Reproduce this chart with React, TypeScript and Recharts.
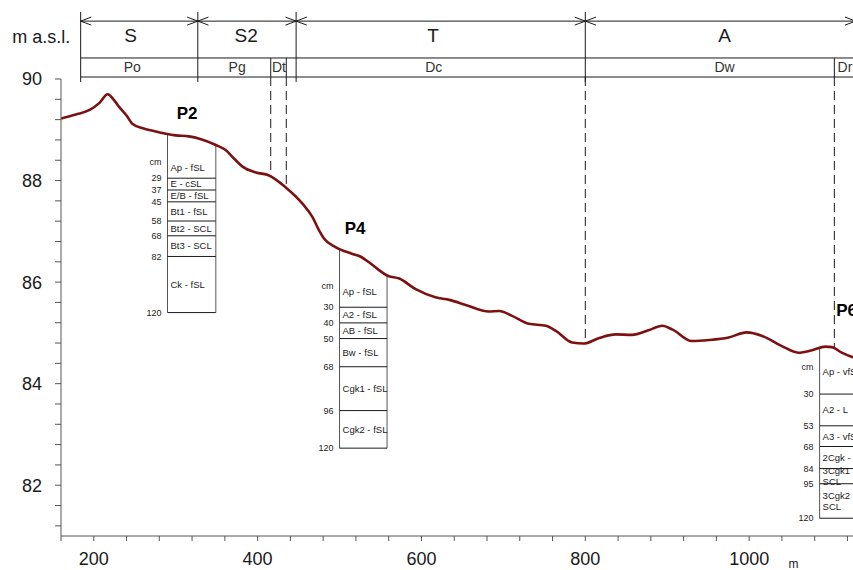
import { LineChart, Line, XAxis, YAxis, ReferenceLine, ReferenceDot } from "recharts";

// terrain profile along the transect (m, m a.s.l.)
const distance = [
  160, 178, 195, 207, 217, 224, 231, 240, 247, 260, 272, 300, 316, 330, 349, 361, 372, 382, 398, 414,
  434, 455, 467, 475, 481, 495, 515, 526, 536, 547, 558, 573, 593, 617, 634, 654, 682, 695, 710, 731,
  752, 764, 784, 798, 817, 837, 857, 877, 894, 906, 930, 951, 975, 997, 1016, 1040, 1060, 1077, 1093,
  1101, 1113, 1125, 1140,
];
const elevation = [
  89.22, 89.3, 89.39, 89.53, 89.7, 89.6, 89.45, 89.28, 89.12, 89.03, 88.98, 88.89, 88.87, 88.82, 88.7,
  88.6, 88.42, 88.27, 88.16, 88.1, 87.87, 87.54, 87.28, 87.02, 86.86, 86.69, 86.56, 86.5, 86.39, 86.25,
  86.13, 86.07, 85.86, 85.7, 85.65, 85.55, 85.42, 85.43, 85.34, 85.18, 85.14, 85.04, 84.81, 84.79,
  84.9, 84.97, 84.96, 85.05, 85.14, 85.07, 84.84, 84.86, 84.91, 85.01, 84.94, 84.74, 84.61, 84.66,
  84.73, 84.72, 84.61, 84.53, 84.48,
];

const xTicks = [
  160, 200, 240, 280, 320, 360, 400, 440, 480, 520, 560, 600, 640, 680, 720, 760, 800, 840, 880, 920,
  960, 1000, 1040, 1080, 1120, 1160, 1200,
];
const yTicks = [
  81.2, 81.6, 82, 82.4, 82.8, 83.2, 83.6, 84, 84.4, 84.8, 85.2, 85.6, 86, 86.4, 86.8, 87.2, 87.6, 88,
  88.4, 88.8, 89.2, 89.6, 90,
];

// header: landscape units and sub-units
const zoneNames = ["S", "S2", "T", "A"];
const zoneEdges = [184, 327, 447, 800, 1130];
const zoneLabelAt = [245, 386, 614, 970];
const unitNames = ["Po", "Pg", "Dt", "Dc", "Dw", "Dr"];
const unitLabelAt = [247, 375, 426, 615, 970, 1117];
const unitDividers = [416, 435, 1104];
const dashedAt = [416, 435, 800, 1104];

// soil profiles
const profileNames = ["P2", "P4", "P6"];
const profileFrom = [290, 500, 1086];
const profileTo = [349, 558, 1145];
const profileTop = [88.89, 86.43, 84.61];
const profileBase = [85.4, 82.73, 81.35];
const profileTitleX = [314, 519, 1119];
const profileTitleY = [89.33, 87.07, 85.45];
const profileDepths = [
  [0, 29, 37, 45, 58, 68, 82, 120],
  [0, 30, 40, 50, 68, 96, 120],
  [0, 30, 53, 68, 84, 95, 120],
];
const profileHorizons = [
  ["Ap - fSL", "E - cSL", "E/B - fSL", "Bt1 - fSL", "Bt2 - SCL", "Bt3 - SCL", "Ck - fSL"],
  ["Ap - fSL", "A2 - fSL", "AB - fSL", "Bw - fSL", "Cgk1 - fSL", "Cgk2 - fSL"],
  ["Ap - vfSL", "A2 - L", "A3 - vfSL", "2Cgk - fSL", "3Cgk1|SCL", "3Cgk2|SCL"],
];
const cmLabelDepth = [18, 16, 10];

const terrain = distance.map((d, i) => ({ d, e: elevation[i] }));

const FONT = "Liberation Sans, Arial, Helvetica, sans-serif";
const INK = "#1a1a1a";
const PX_PER_M = 50.78; // vertical px per metre, for small offsets

// header levels (m a.s.l. above the plot)
const HEAD_TOP = 91.32;
const ARROW_Y = 91.14;
const ROW1_BOTTOM = 90.414;
const ROW2_BOTTOM = 90.039;
const EDGE_BOTTOM = 89.94;
const ARROW_DX = 13;
const ARROW_DY = 4 / PX_PER_M;

function groundAt(x: number): number {
  if (x <= distance[0]) return elevation[0];
  for (let i = 1; i < distance.length; i++) {
    if (x <= distance[i]) {
      const t = (x - distance[i - 1]) / (distance[i] - distance[i - 1]);
      return elevation[i - 1] + t * (elevation[i] - elevation[i - 1]);
    }
  }
  return elevation[elevation.length - 1];
}

function seg(key: string, x1: number, y1: number, x2: number, y2: number, stroke = INK, dash?: string) {
  return (
    <ReferenceLine
      key={key}
      segment={[
        { x: x1, y: y1 },
        { x: x2, y: y2 },
      ]}
      stroke={stroke}
      strokeWidth={1}
      strokeDasharray={dash}
      ifOverflow="visible"
    />
  );
}

function txt(
  key: string,
  x: number,
  y: number,
  value: string,
  size: number,
  position: "center" | "left" | "right" = "center",
  offset = 0,
  weight: string | number = "normal",
  fill = INK,
) {
  return (
    <ReferenceDot
      key={key}
      x={x}
      y={y}
      r={0}
      fill="none"
      stroke="none"
      ifOverflow="visible"
      label={{
        value,
        position,
        offset,
        fontSize: size,
        fontFamily: FONT,
        fontWeight: weight,
        fill,
      }}
    />
  );
}

function header() {
  const els = [];
  const first = zoneEdges[0];
  const last = zoneEdges[zoneEdges.length - 1];
  els.push(seg("arrow", first, ARROW_Y, last, ARROW_Y));
  els.push(seg("row1", first, ROW1_BOTTOM, last + 30, ROW1_BOTTOM));
  els.push(seg("row2", first, ROW2_BOTTOM, last + 30, ROW2_BOTTOM));
  zoneEdges.forEach((x, i) => {
    els.push(seg(`edge-${i}`, x, HEAD_TOP, x, EDGE_BOTTOM));
    if (i > 0) {
      els.push(seg(`ah-l1-${i}`, x - ARROW_DX, ARROW_Y + ARROW_DY, x, ARROW_Y));
      els.push(seg(`ah-l2-${i}`, x - ARROW_DX, ARROW_Y - ARROW_DY, x, ARROW_Y));
    }
    if (i < zoneEdges.length - 1) {
      els.push(seg(`ah-r1-${i}`, x, ARROW_Y, x + ARROW_DX, ARROW_Y + ARROW_DY));
      els.push(seg(`ah-r2-${i}`, x, ARROW_Y, x + ARROW_DX, ARROW_Y - ARROW_DY));
    }
  });
  unitDividers.forEach((x, i) => {
    els.push(seg(`unit-${i}`, x, ROW1_BOTTOM, x, ROW2_BOTTOM));
  });
  dashedAt.forEach((x, i) => {
    els.push(seg(`dash-${i}`, x, ROW2_BOTTOM, x, groundAt(x), INK, "9 5"));
  });
  zoneNames.forEach((n, i) => {
    els.push(txt(`zone-${n}`, zoneLabelAt[i], 90.866, n, 19));
  });
  unitNames.forEach((n, i) => {
    els.push(txt(`unit-${n}`, unitLabelAt[i], 90.236, n, 14, "center", 0, "normal", "#333"));
  });
  els.push(txt("ylabel", 136, 90.833, "m a.s.l.", 18));
  els.push(txt("xunit", 1054, 80.46, "m", 12));
  return els;
}

function profiles() {
  const els = [];
  profileNames.forEach((name, p) => {
    const depths = profileDepths[p];
    const maxDepth = depths[depths.length - 1];
    const toElev = (cm: number) => profileTop[p] - ((profileTop[p] - profileBase[p]) * cm) / maxDepth;
    const x1 = profileFrom[p];
    const x2 = profileTo[p];
    els.push(seg(`${name}-left`, x1, toElev(maxDepth), x1, groundAt(x1), "#555"));
    els.push(seg(`${name}-right`, x2, toElev(maxDepth), x2, groundAt(x2), "#555"));
    depths.slice(1).forEach((cm) => {
      els.push(seg(`${name}-h-${cm}`, x1, toElev(cm), x2, toElev(cm)));
      els.push(txt(`${name}-d-${cm}`, x1, toElev(cm), String(cm), 9, "left", 6));
    });
    els.push(txt(`${name}-cm`, x1, toElev(cmLabelDepth[p]), "cm", 9, "left", 6));
    profileHorizons[p].forEach((h, k) => {
      const top = depths[k];
      const bottom = depths[k + 1];
      const mid = k === 0 ? cmLabelDepth[p] + 4 : (top + bottom) / 2;
      const lines = h.split("|");
      lines.forEach((line, j) => {
        const shift = ((j - (lines.length - 1) / 2) * 11) / PX_PER_M;
        els.push(txt(`${name}-hz-${k}-${j}`, x1, toElev(mid) - shift, line, 9.5, "right", 3));
      });
    });
    els.push(txt(`${name}-title`, profileTitleX[p], profileTitleY[p], name, 17, "center", 0, "bold", "#000"));
  });
  return els;
}

export default function App() {
  return (
    <div
      style={{
        position: "absolute",
        left: 0,
        top: 0,
        width: 853,
        height: 570,
        overflow: "hidden",
        background: "#fff",
      }}
    >
      <LineChart width={950} height={570} data={terrain} margin={{ top: 79, right: 37, bottom: 0, left: 0 }}>
        <XAxis
          type="number"
          dataKey="d"
          domain={[160, 1200]}
          ticks={xTicks}
          interval={0}
          allowDataOverflow
          height={34}
          tickSize={5}
          tickMargin={11}
          stroke="#555"
          tick={{ fontSize: 18, fill: INK, fontFamily: FONT }}
          tickFormatter={(v: number) => (v % 200 === 0 && v >= 200 ? String(v) : "")}
        />
        <YAxis
          type="number"
          domain={[81, 90]}
          ticks={yTicks}
          interval={0}
          allowDataOverflow
          width={61}
          tickSize={6}
          tickMargin={13}
          stroke="#555"
          tick={{ fontSize: 18, fill: INK, fontFamily: FONT }}
          tickFormatter={(v: number) => {
            const r = Math.round(v);
            return Math.abs(v - r) < 0.01 && r % 2 === 0 ? String(r) : "";
          }}
        />
        {header()}
        {profiles()}
        <Line
          dataKey="e"
          type="monotone"
          stroke="#7d1111"
          strokeWidth={2.6}
          dot={false}
          activeDot={false}
          isAnimationActive={false}
        />
      </LineChart>
    </div>
  );
}
